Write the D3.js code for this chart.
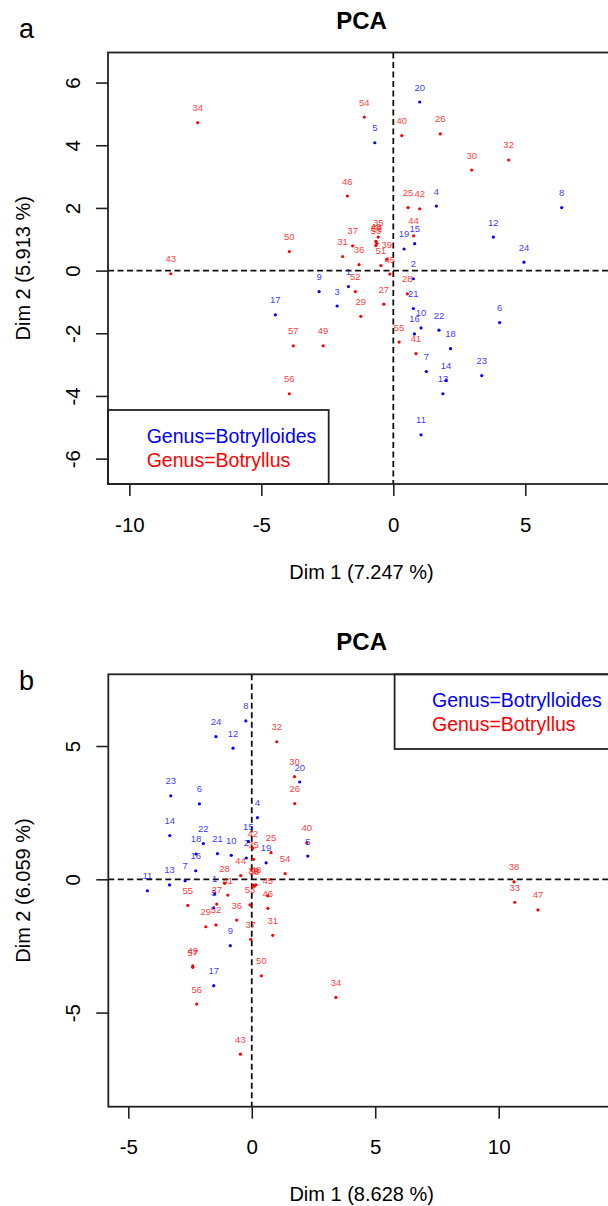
<!DOCTYPE html>
<html>
<head>
<meta charset="utf-8">
<script src="https://cdn.jsdelivr.net/npm/d3@7"></script>
<style>
  body { margin: 0; background: #fff; }
  svg { display: block; font-family: "Liberation Sans", Arial, sans-serif; }
</style>
</head>
<body>
<svg id="chart" width="608" height="1206"></svg>
<script>
// Legend entries and colours
const genusNames = ['Genus=Botrylloides', 'Genus=Botryllus'];
const genusColors = ['#0000ff', '#ff0000'];

// Panel a - Botrylloides (blue)
const aBlueIds = [1, 2, 3, 4, 5, 6, 7, 8, 9, 10, 11, 12, 13, 14, 15, 16, 17, 18, 19, 20, 21, 22, 23, 24];
const aBlueDim1 = [-1.70, 0.76, -2.13, 1.63, -0.70, 4.03, 1.25, 6.38, -2.81, 1.05, 1.05, 3.79, 1.88, 2.00, 0.81, 0.80, -4.47, 2.17, 0.41, 1.00, 0.76, 1.73, 3.35, 4.95];
const aBlueDim2 = [-0.51, -0.26, -1.13, 2.06, 4.08, -1.66, -3.22, 2.01, -0.67, -1.83, -5.24, 1.07, -3.93, -3.51, 0.86, -2.02, -1.41, -2.49, 0.69, 5.38, -1.21, -1.90, -3.35, 0.27];

// Panel a - Botryllus (red)
const aRedIds = [25, 26, 27, 28, 29, 30, 31, 32, 34, 35, 36, 37, 39, 40, 41, 42, 43, 44, 45, 46, 48, 49, 50, 51, 52, 53, 54, 55, 56, 57, 58];
const aRedDim1 = [0.56, 1.78, -0.36, 0.53, -1.23, 2.97, -1.92, 4.37, -7.41, -0.57, -1.30, -1.54, -0.25, 0.32, 0.86, 1.00, -8.43, 0.77, -0.13, -1.74, -0.66, -2.66, -3.94, -0.47, -1.44, -0.66, -1.10, 0.22, -3.94, -3.79, -0.62];
const aRedDim2 = [2.01, 4.36, -1.07, -0.74, -1.46, 3.21, 0.45, 3.53, 4.72, 1.07, 0.19, 0.79, 0.36, 4.31, -2.65, 1.97, -0.10, 1.11, -0.11, 2.38, 0.93, -2.40, 0.61, 0.16, -0.67, 0.80, 4.90, -2.28, -3.93, -2.40, 0.87];

// Panel b - Botrylloides (blue)
const bBlueIds = [1, 2, 3, 4, 5, 6, 7, 8, 9, 10, 11, 12, 13, 14, 15, 16, 17, 18, 19, 20, 21, 22, 23, 24];
const bBlueDim1 = [-1.50, -0.22, -1.54, 0.23, 2.27, -2.12, -2.70, -0.24, -0.87, -0.83, -4.23, -0.76, -3.33, -3.32, -0.14, -2.27, -1.54, -2.26, 0.58, 1.94, -1.39, -1.96, -3.28, -1.45];
const bBlueDim2 = [-0.55, 0.80, -1.07, 2.31, 0.87, 2.83, -0.05, 5.94, -2.49, 0.90, -0.43, 4.92, -0.21, 1.64, 1.42, 0.32, -3.99, 0.95, 0.62, 3.65, 0.96, 1.34, 3.13, 5.35];

// Panel b - Botryllus (red)
const bRedIds = [25, 26, 27, 28, 29, 30, 31, 32, 33, 34, 35, 36, 37, 38, 39, 40, 41, 42, 43, 44, 45, 46, 47, 48, 49, 50, 52, 53, 54, 55, 56, 57, 58];
const bRedDim1 = [0.78, 1.74, -1.42, -1.10, -1.86, 1.73, 0.85, 1.01, 10.65, 3.41, 0.07, -0.61, -0.04, 10.62, 0.07, 2.23, -0.97, 0.04, -0.46, -0.45, 0.65, 0.65, 11.59, 0.17, -2.39, 0.39, -1.45, -0.07, 1.35, -2.59, -2.23, -2.39, 0.10];
const bRedDim2 = [1.00, 2.84, -0.93, -0.15, -1.78, 3.85, -2.10, 5.16, -0.86, -4.43, 0.75, -1.53, -2.25, -0.10, -0.22, 1.37, -0.59, 1.16, -6.56, 0.14, -0.62, -1.09, -1.15, -0.21, -3.25, -3.62, -1.71, -0.96, 0.21, -0.98, -4.68, -3.30, -0.26];

// Tick values
const aXTicks = [-10, -5, 0, 5];
const aYTicks = [-6, -4, -2, 0, 2, 4, 6];
const bXTicks = [-5, 0, 5, 10];
const bYTicks = [-5, 0, 5];

function toPoints(ids, d1, d2, g) {
    return ids.map((id, i) => ({ id: id, x: d1[i], y: d2[i], g: g }));
}

const svg = d3.select('#chart');

function drawPanel(p) {
    const x = d3.scaleLinear().domain(p.xDomain).range([p.box.left, p.box.right]);
    const y = d3.scaleLinear().domain(p.yDomain).range([p.box.bottom, p.box.top]);
    const g = svg.append('g');

    // panel letter
    g.append('text')
        .attr('x', 19).attr('y', p.letterY)
        .style('font-size', '27px')
        .text(p.letter);

    // title
    g.append('text')
        .attr('x', (p.box.left + p.box.right) / 2).attr('y', p.titleY)
        .attr('text-anchor', 'middle')
        .style('font-size', '24px').style('font-weight', 'bold')
        .text('PCA');

    // clip for the plot region
    const clipId = 'clip-' + p.letter;
    g.append('clipPath').attr('id', clipId)
        .append('rect')
        .attr('x', p.box.left).attr('y', p.box.top)
        .attr('width', p.box.right - p.box.left).attr('height', p.box.bottom - p.box.top);

    const plot = g.append('g').attr('clip-path', `url(#${clipId})`);

    // dashed zero lines
    plot.append('line')
        .attr('x1', p.box.left).attr('x2', p.box.right)
        .attr('y1', y(0)).attr('y2', y(0))
        .attr('stroke', '#111').attr('stroke-width', 1.8).attr('stroke-dasharray', '6,3.5');
    plot.append('line')
        .attr('x1', x(0)).attr('x2', x(0))
        .attr('y1', p.box.top).attr('y2', p.box.bottom)
        .attr('stroke', '#111').attr('stroke-width', 1.8).attr('stroke-dasharray', '6,3.5');

    // points
    plot.selectAll('circle.pt').data(p.points).join('circle')
        .attr('class', 'pt')
        .attr('cx', d => x(d.x)).attr('cy', d => y(d.y))
        .attr('r', 1.6)
        .attr('fill', d => genusColors[d.g]);

    // point labels
    plot.selectAll('text.lbl').data(p.points).join('text')
        .attr('class', 'lbl')
        .attr('x', d => x(d.x)).attr('y', d => y(d.y) - 11.5)
        .attr('text-anchor', 'middle')
        .style('font-size', '9.5px')
        .attr('fill', d => genusColors[d.g])
        .attr('fill-opacity', 0.8)
        .text(d => d.id);

    // axes
    const xAxis = g.append('g')
        .attr('transform', `translate(0, ${p.box.bottom})`)
        .call(d3.axisBottom(x).tickValues(p.xTicks).tickSize(12).tickSizeOuter(0)
            .tickPadding(21).tickFormat(d => String(d)));
    const yAxis = g.append('g')
        .attr('transform', `translate(${p.box.left}, 0)`)
        .call(d3.axisLeft(y).tickValues(p.yTicks).tickSize(12).tickSizeOuter(0)
            .tickFormat(d => String(d)));
    [xAxis, yAxis].forEach(ax => {
        ax.select('.domain').remove();
        ax.selectAll('.tick line').attr('stroke', '#222').attr('stroke-width', 1.6);
        ax.selectAll('.tick text').attr('fill', '#000')
            .style('font-size', '20.5px').style('font-family', '"Liberation Sans", Arial, sans-serif');
    });
    yAxis.selectAll('.tick text')
        .attr('x', null).attr('dy', null).attr('y', 0)
        .attr('text-anchor', 'middle')
        .attr('transform', 'translate(-28.5, 0) rotate(-90)');

    // axis titles
    g.append('text')
        .attr('x', (p.box.left + p.box.right) / 2).attr('y', p.xTitleY)
        .attr('text-anchor', 'middle')
        .style('font-size', '20px')
        .text(p.xTitle);
    g.append('text')
        .attr('transform', `translate(30, ${(p.box.top + p.box.bottom) / 2}) rotate(-90)`)
        .attr('text-anchor', 'middle')
        .style('font-size', '20px')
        .text(p.yTitle);

    // legend box
    const lg = p.legend;
    g.append('rect')
        .attr('x', lg.x0).attr('y', lg.y0)
        .attr('width', lg.x1 - lg.x0).attr('height', lg.y1 - lg.y0)
        .attr('fill', '#fff').attr('stroke', '#222').attr('stroke-width', 1.8);
    genusNames.forEach((name, i) => {
        g.append('text')
            .attr('x', lg.textX).attr('y', lg.baseline + i * 24)
            .style('font-size', '19.5px')
            .attr('fill', genusColors[i])
            .text(name);
    });

    // plot frame
    g.append('rect')
        .attr('x', p.box.left).attr('y', p.box.top)
        .attr('width', p.box.right - p.box.left).attr('height', p.box.bottom - p.box.top)
        .attr('fill', 'none').attr('stroke', '#222').attr('stroke-width', 1.8);
}

drawPanel({
    letter: 'a', letterY: 38, titleY: 29,
    box: { left: 108, right: 615, top: 52.5, bottom: 484 },
    xDomain: [-10.81, 8.40], yDomain: [-6.81, 6.96],
    xTicks: aXTicks, yTicks: aYTicks,
    xTitle: 'Dim 1 (7.247 %)', yTitle: 'Dim 2 (5.913 %)', xTitleY: 579,
    legend: { x0: 108, x1: 328.7, y0: 410, y1: 484, textX: 146.7, baseline: 443 },
    points: toPoints(aBlueIds, aBlueDim1, aBlueDim2, 0).concat(toPoints(aRedIds, aRedDim1, aRedDim2, 1))
});

drawPanel({
    letter: 'b', letterY: 690, titleY: 650,
    box: { left: 108.3, right: 615, top: 674.3, bottom: 1106.7 },
    xDomain: [-5.81, 14.71], yDomain: [-8.53, 7.69],
    xTicks: bXTicks, yTicks: bYTicks,
    xTitle: 'Dim 1 (8.628 %)', yTitle: 'Dim 2 (6.059 %)', xTitleY: 1201,
    legend: { x0: 394.6, x1: 620, y0: 674.3, y1: 749, textX: 432, baseline: 707 },
    points: toPoints(bBlueIds, bBlueDim1, bBlueDim2, 0).concat(toPoints(bRedIds, bRedDim1, bRedDim2, 1))
});
</script>
</body>
</html>
